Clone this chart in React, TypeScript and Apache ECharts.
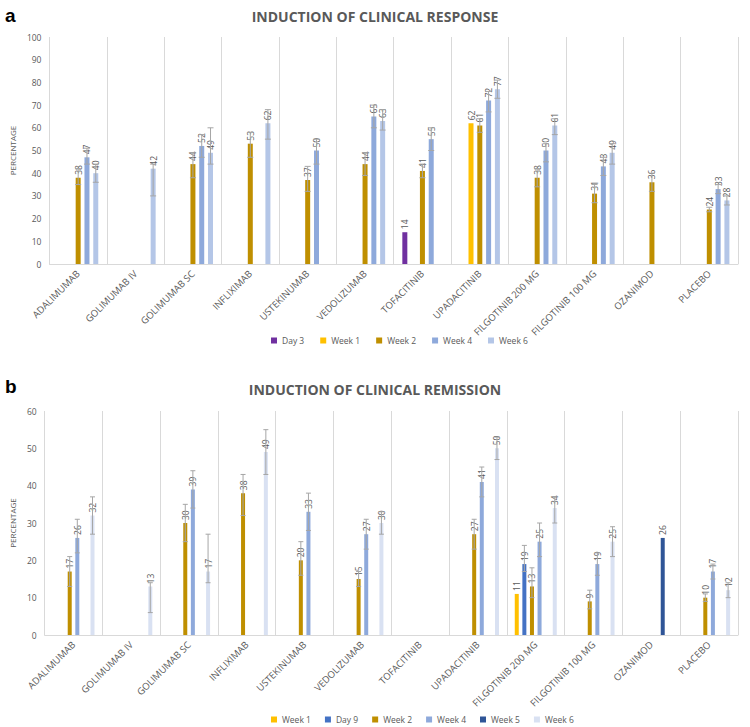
import React, { useEffect, useRef } from "react";
import * as echarts from "echarts";

const categories = [
  "ADALIMUMAB", "GOLIMUMAB IV", "GOLIMUMAB SC", "INFLIXIMAB", "USTEKINUMAB", "VEDOLIZUMAB",
  "TOFACITINIB", "UPADACITINIB", "FILGOTINIB 200 MG", "FILGOTINIB 100 MG", "OZANIMOD", "PLACEBO",
];

// Panel a: induction of clinical response
const respNames = ["Day 3", "Week 1", "Week 2", "Week 4", "Week 6"];
const respDay3 = [null, null, null, null, null, null, 14, null, null, null, null, null];
const respWeek1 = [null, null, null, null, null, null, null, 62, null, null, null, null];
const respWeek2 = [38, null, 44, 53, 37, 44, 41, 61, 38, 31, 36, 24];
const respWeek4 = [47, null, 52, null, 50, 65, 55, 72, 50, 43, null, 33];
const respWeek6 = [40, 42, 49, 62, null, 63, null, 77, 61, 49, null, 28];
const respDay3Err = [null, null, null, null, null, null, null, null, null, null, null, null];
const respWeek1Err = [null, null, null, null, null, null, null, null, null, null, null, null];
const respWeek2Err = [[35, 42], null, [38, 49], [47, 58], [32, 43], [39, 49], [38, 44], [58, 64], [34, 42], [27, 35], [32, 40], [23, 25]];
const respWeek4Err = [[44, 51], null, [47, 57], null, [44, 55], [60, 70], [50, 60], [67, 76], [45, 53], [39, 47], null, [31, 35]];
const respWeek6Err = [[36, 44], [30, 44], [44, 60], [55, 68], null, [59, 68], null, [73, 81], [57, 64], [44, 53], null, [26, 30]];
const respColors = ["#7030A0", "#FFC000", "#BF8F00", "#8EA9DB", "#B4C6E7"];

// Panel b: induction of clinical remission
const remNames = ["Week 1", "Day 9", "Week 2", "Week 4", "Week 5", "Week 6"];
const remWeek1 = [null, null, null, null, null, null, null, null, 11, null, null, null];
const remDay9 = [null, null, null, null, null, null, null, null, 19, null, null, null];
const remWeek2 = [17, null, 30, 38, 20, 15, null, 27, 13, 9, null, 10];
const remWeek4 = [26, null, 39, null, 33, 27, null, 41, 25, 19, null, 17];
const remWeek5 = [null, null, null, null, null, null, null, null, null, null, 26, null];
const remWeek6 = [32, 13, 17, 49, null, 30, null, 50, 34, 25, null, 12];
const remWeek1Err = [null, null, null, null, null, null, null, null, null, null, null, null];
const remDay9Err = [null, null, null, null, null, null, null, null, [17, 24], null, null, null];
const remWeek2Err = [[13, 21], null, [25, 35], [32, 43], [16, 25], [13, 17], null, [23, 31], [10, 18], [7, 12], null, [9, 11]];
const remWeek4Err = [[22, 31], null, [34, 44], null, [28, 38], [23, 31], null, [37, 45], [21, 30], [16, 22], null, [15, 19]];
const remWeek5Err = [null, null, null, null, null, null, null, null, null, null, null, null];
const remWeek6Err = [[27, 37], [6, 14], [14, 27], [43, 55], null, [27, 33], null, [47, 53], [30, 37], [21, 29], null, [10, 14]];
const remColors = ["#FFC000", "#4472C4", "#BF8F00", "#8EA9DB", "#2F5597", "#D9E1F2"];

const FONT = "'Open Sans', 'Noto Sans', sans-serif";
const GREY = "#595959";

function buildOption(cfg: {
  letter: string;
  title: string;
  names: string[];
  values: (number | null)[][];
  errors: (number[] | null)[][];
  colors: string[];
  max: number;
  barWidth: number;
  barGap: number;
  grid: any;
  titleTop: number;
  letterTop: number;
  legendTop: number;
  legendLeft: any;
  legendGap: number;
}) {
  const n = cfg.names.length;
  const spacing = cfg.barWidth * (1 + cfg.barGap);
  const bars = cfg.names.map((name, i) => ({
    type: "bar",
    name,
    data: cfg.values[i],
    barWidth: cfg.barWidth,
    barGap: cfg.barGap * 100 + "%",
    itemStyle: { color: cfg.colors[i] },
    z: 2,
    label: {
      show: true,
      position: "top",
      rotate: 90,
      align: "left",
      verticalAlign: "middle",
      distance: 3,
      fontSize: 8.5,
      fontFamily: FONT,
      color: GREY,
    },
  }));
  const errs = cfg.names.map((name, i) => {
    const offset = (i - (n - 1) / 2) * spacing;
    const data: number[][] = [];
    cfg.errors[i].forEach((e, k) => {
      if (e) data.push([k, e[0], e[1]]);
    });
    return {
      type: "custom",
      name: "err-" + name,
      data,
      z: 5,
      silent: true,
      encode: { x: 0, y: [1, 2] },
      renderItem: (params: any, api: any) => {
        const idx = api.value(0);
        const top = api.coord([idx, api.value(2)]);
        const bot = api.coord([idx, api.value(1)]);
        const x = top[0] + offset;
        const hw = cfg.barWidth / 2 + 0.5;
        const st = { stroke: "#A6A6A6", lineWidth: 1 };
        return {
          type: "group",
          children: [
            { type: "line", shape: { x1: x, y1: top[1], x2: x, y2: bot[1] }, style: st },
            { type: "line", shape: { x1: x - hw, y1: top[1], x2: x + hw, y2: top[1] }, style: st },
            { type: "line", shape: { x1: x - hw, y1: bot[1], x2: x + hw, y2: bot[1] }, style: st },
          ],
        };
      },
    };
  });
  return {
    animation: false,
    title: [
      {
        text: cfg.letter,
        left: 0,
        top: cfg.letterTop,
        textStyle: { fontSize: 19, fontWeight: "bold", color: "#000", fontFamily: "Liberation Sans, Arial, sans-serif" },
      },
      {
        text: cfg.title,
        left: "center",
        top: cfg.titleTop,
        textStyle: { fontSize: 14, fontWeight: "bold", color: GREY, fontFamily: FONT },
      },
    ],
    legend: {
      data: cfg.names,
      top: cfg.legendTop,
      left: cfg.legendLeft,
      itemWidth: 6,
      itemHeight: 6,
      itemGap: cfg.legendGap,
      icon: "rect",
      textStyle: { fontSize: 8.5, color: GREY, fontFamily: FONT },
    },
    grid: cfg.grid,
    xAxis: {
      type: "category",
      data: categories,
      axisLine: { lineStyle: { color: "#D9D9D9" } },
      axisTick: { show: false },
      splitLine: { show: true, lineStyle: { color: "#D9D9D9" } },
      axisLabel: { rotate: 45, fontSize: 9.5, color: GREY, fontFamily: FONT, interval: 0, margin: 8 },
    },
    yAxis: {
      type: "value",
      min: 0,
      max: cfg.max,
      interval: 10,
      name: "PERCENTAGE",
      nameLocation: "middle",
      nameRotate: 90,
      nameGap: 24,
      nameTextStyle: { fontSize: 8, color: GREY, fontFamily: FONT },
      axisLine: { show: false },
      axisTick: { show: false },
      splitLine: { show: false },
      axisLabel: { fontSize: 8.5, color: GREY, fontFamily: FONT, margin: 8 },
    },
    series: [...bars, ...errs],
  };
}

export default function App() {
  const topRef = useRef<HTMLDivElement>(null);
  const botRef = useRef<HTMLDivElement>(null);
  useEffect(() => {
    document.body.style.margin = "0";
    const c1 = echarts.init(topRef.current!, undefined, { renderer: "svg" });
    const c2 = echarts.init(botRef.current!, undefined, { renderer: "svg" });
    c1.setOption(
      buildOption({
        letter: "a",
        title: "INDUCTION OF CLINICAL RESPONSE",
        names: respNames,
        values: [respDay3, respWeek1, respWeek2, respWeek4, respWeek6],
        errors: [respDay3Err, respWeek1Err, respWeek2Err, respWeek4Err, respWeek6Err],
        colors: respColors,
        max: 100,
        barWidth: 5,
        barGap: 0.76,
        grid: { left: 34, right: 12, top: 37, bottom: 96 },
        titleTop: 4,
        letterTop: 1,
        legendTop: 331,
        legendLeft: 266,
        legendGap: 16,
      })
    );
    c2.setOption(
      buildOption({
        letter: "b",
        title: "INDUCTION OF CLINICAL REMISSION",
        names: remNames,
        values: [remWeek1, remDay9, remWeek2, remWeek4, remWeek5, remWeek6],
        errors: [remWeek1Err, remDay9Err, remWeek2Err, remWeek4Err, remWeek5Err, remWeek6Err],
        colors: remColors,
        max: 60,
        barWidth: 4,
        barGap: 0.9,
        grid: { left: 34, right: 12, top: 51, bottom: 92 },
        titleTop: 17,
        letterTop: 12,
        legendTop: 350,
        legendLeft: 266,
        legendGap: 14,
      })
    );
    return () => {
      c1.dispose();
      c2.dispose();
    };
  }, []);
  return (
    <div style={{ width: 750, height: 727, background: "#fff" }}>
      <div ref={topRef} style={{ width: 750, height: 360 }} />
      <div ref={botRef} style={{ width: 750, height: 367 }} />
    </div>
  );
}
